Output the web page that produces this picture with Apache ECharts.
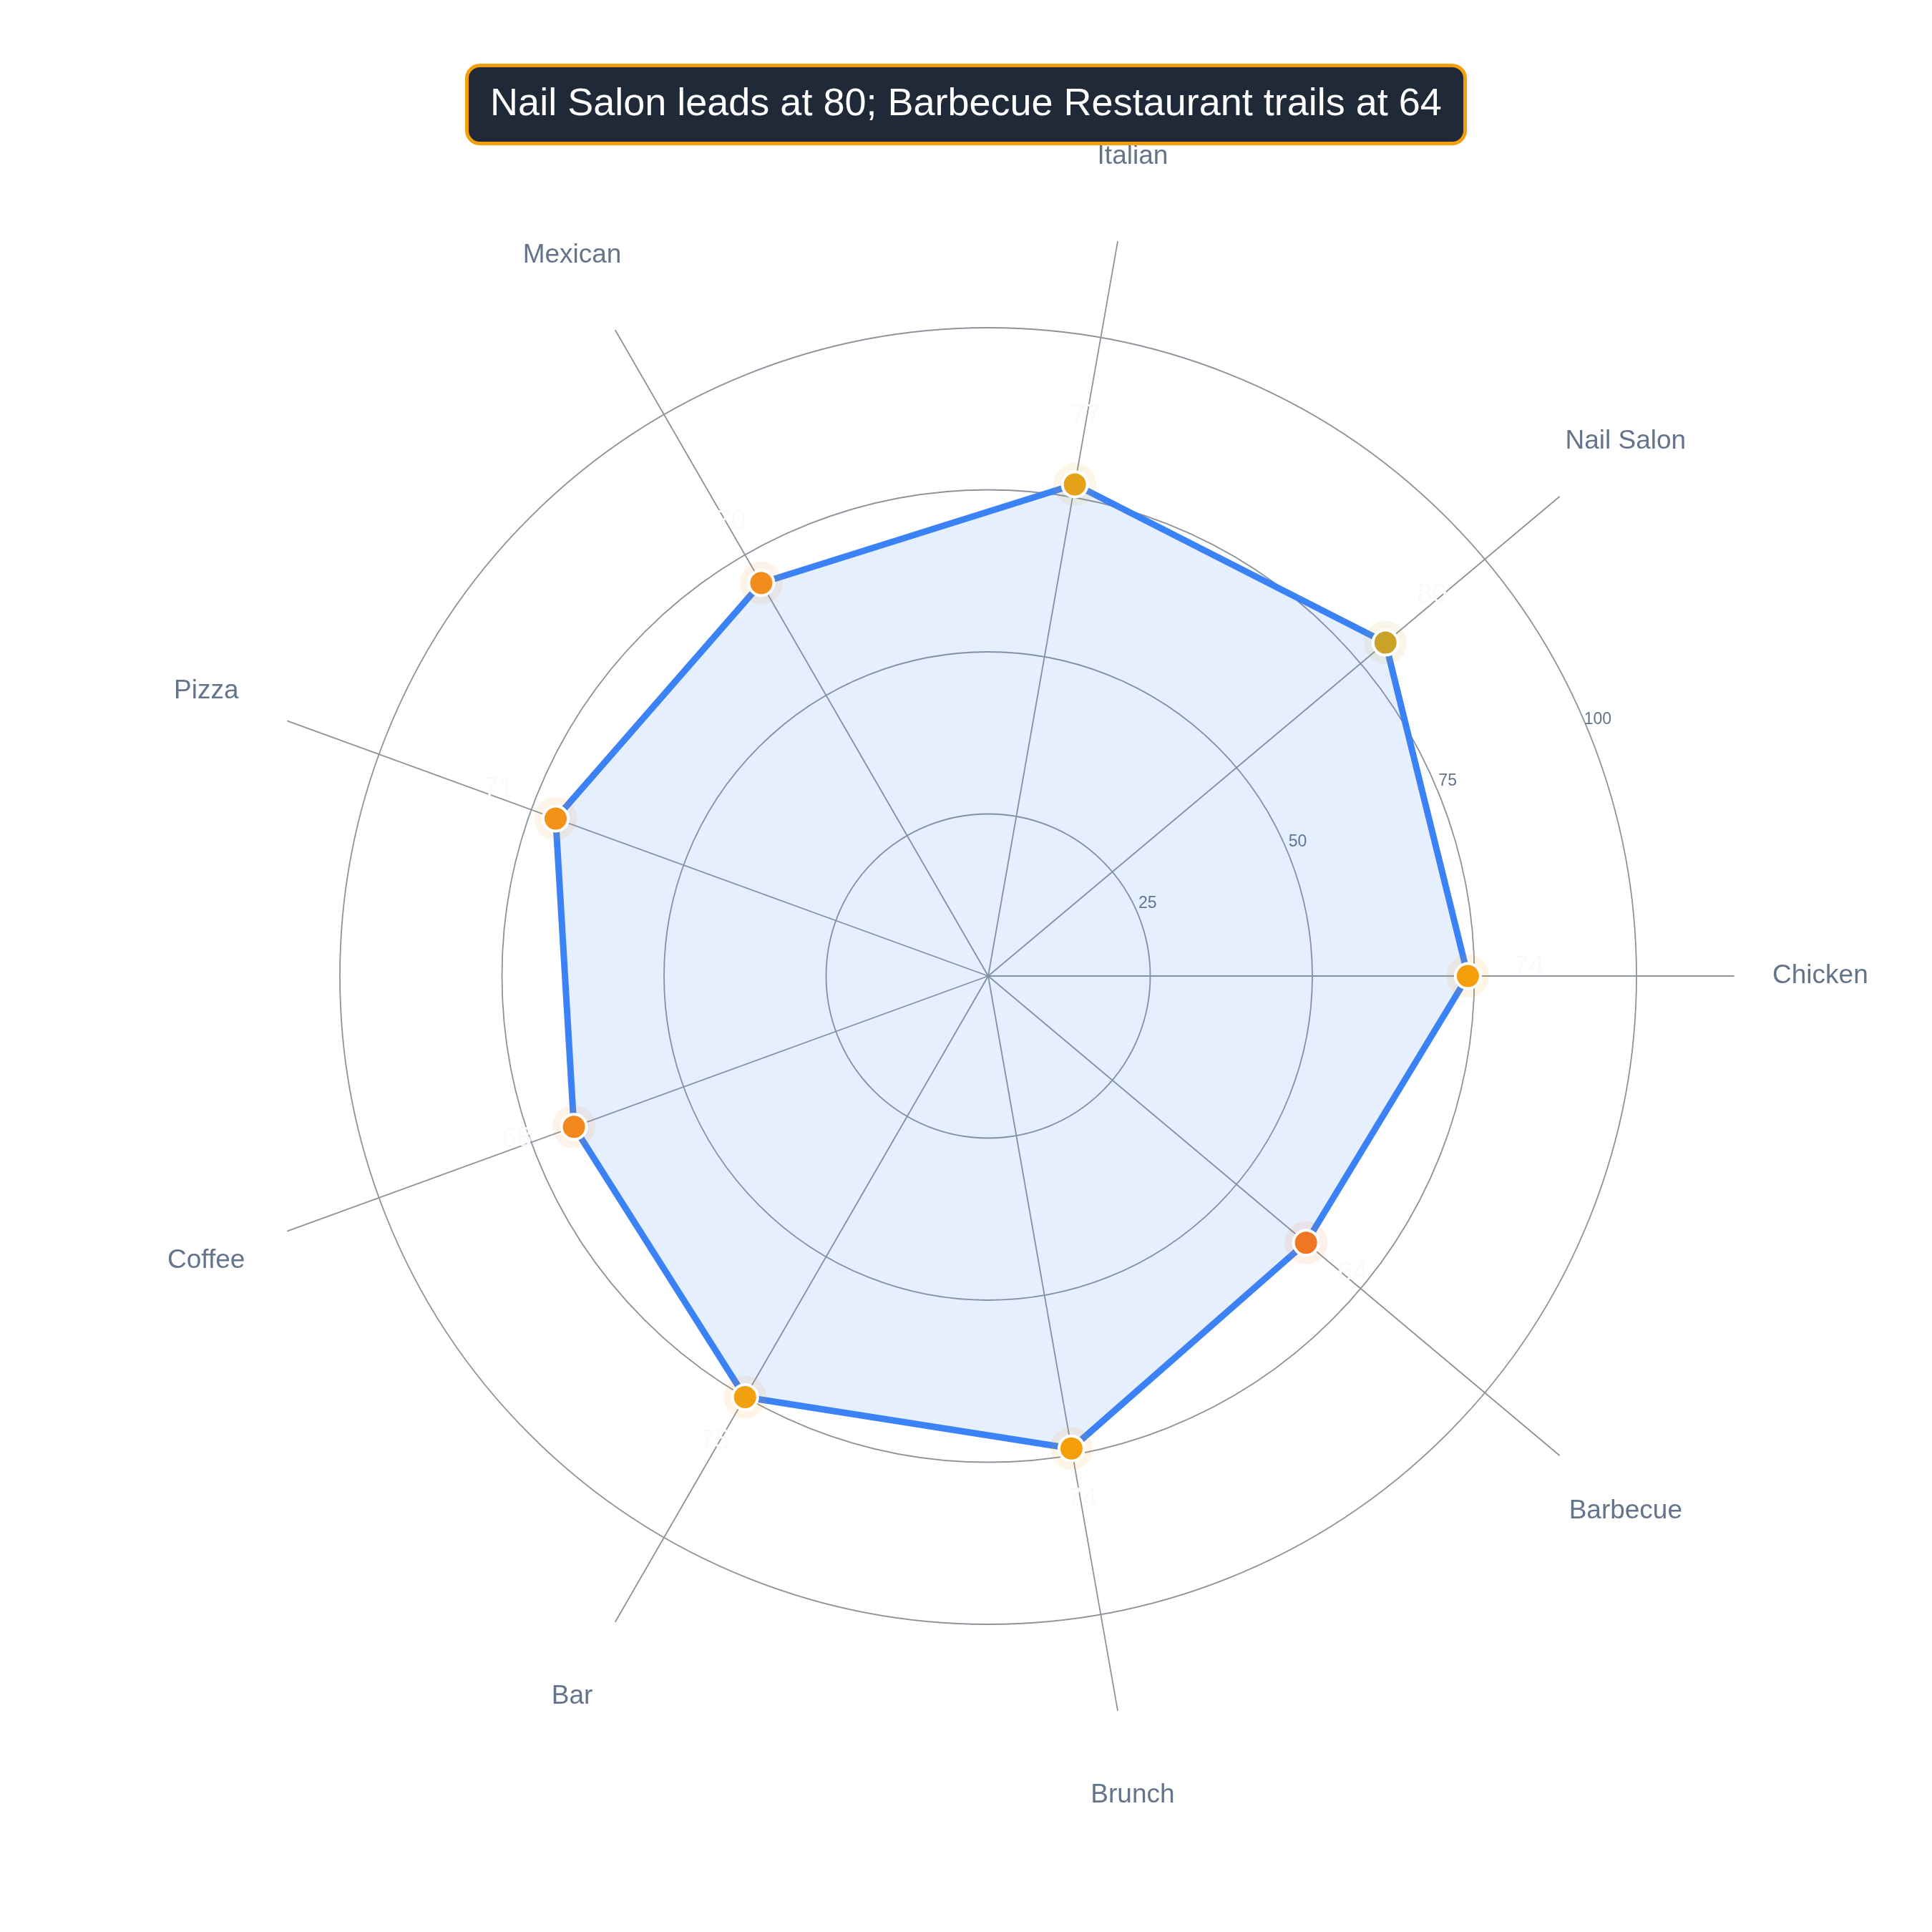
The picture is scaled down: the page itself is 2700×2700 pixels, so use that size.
<!DOCTYPE html>
<html><head><meta charset="utf-8">
<script src="https://cdn.jsdelivr.net/npm/echarts@6/dist/echarts.min.js"></script>
<style>html,body{margin:0;padding:0;background:#ffffff}#c{width:2700px;height:2700px}</style>
</head><body><div id="c"></div>
<script>
// ---- data ----
const categories = ['Chicken', 'Nail Salon', 'Italian', 'Mexican', 'Pizza', 'Coffee', 'Bar', 'Brunch', 'Barbecue'];
const values = [74, 80, 77, 70, 71, 68, 75, 74, 64];
const axisMax = 100;
const tickStep = 25;
const titleText = 'Nail Salon leads at 80; Barbecue Restaurant trails at 64';

// ---- layout / style ----
const CX = 1381, CY = 1364, R = 906;
const gridColor = '#8d939b';
const textColor = '#64748b';
const FONT = 'Liberation Sans';
const n = categories.length;

const indicators = categories.map(c => ({ name: c, max: axisMax, min: 0 }));

const pointData = values.map((v, i) => {
  const a = i * 2 * Math.PI / n;
  return {
    value: [v, categories[i]],
    label: { offset: [85 * Math.cos(a), -85 * Math.sin(a) - 12] }
  };
});
const haloData = values.map((v, i) => [v, categories[i]]);

const chart = echarts.init(document.getElementById('c'), null, { renderer: 'canvas' });
chart.setOption({
  backgroundColor: '#ffffff',
  animation: false,
  title: {
    text: titleText,
    left: 'center',
    top: 91,
    padding: [24, 33],
    backgroundColor: '#1f2937',
    borderColor: '#f59e0b',
    borderWidth: 5,
    borderRadius: 18,
    z: 20,
    textStyle: { color: '#ffffff', fontSize: 54, fontWeight: 'normal', fontFamily: FONT, lineHeight: 62 }
  },
  visualMap: {
    type: 'continuous',
    show: false,
    min: Math.min(...values),
    max: Math.max(...values),
    dimension: 0,
    seriesIndex: [1, 2],
    inRange: { color: ['#ef7623', '#f07f21', '#f2881e', '#f28c1a', '#f49515', '#f59e0b', '#eda212', '#dba21d', '#c9a227'] }
  },
  radar: [
    {
      center: [CX, CY],
      radius: R,
      startAngle: 0,
      shape: 'circle',
      splitNumber: axisMax / tickStep,
      indicator: indicators,
      axisName: { show: false },
      axisLine: { show: false },
      axisTick: { show: false },
      axisLabel: { show: false },
      splitArea: { show: false },
      splitLine: { show: true, lineStyle: { color: gridColor, width: 1.8 } }
    },
    {
      center: [CX, CY],
      radius: R * 1.15,
      startAngle: 0,
      shape: 'circle',
      splitNumber: 1,
      indicator: indicators,
      axisNameGap: 121,
      axisName: { show: true, color: textColor, fontSize: 37, fontFamily: FONT, align: 'center', verticalAlign: 'middle' },
      axisLine: { show: true, lineStyle: { color: gridColor, width: 1.8 } },
      axisTick: { show: false },
      axisLabel: { show: false },
      splitArea: { show: false },
      splitLine: { show: false }
    }
  ],
  polar: [
    { center: [CX, CY], radius: R },
    { center: [1394, 1348], radius: R }
  ],
  angleAxis: [
    {
      polarIndex: 0, type: 'category', data: categories, startAngle: 0, clockwise: false, boundaryGap: false,
      axisLine: { show: false }, axisTick: { show: false }, axisLabel: { show: false }, splitLine: { show: false }
    },
    {
      polarIndex: 1, type: 'value', min: 0, max: 360, startAngle: 22.2, show: false,
      axisLine: { show: false }, axisTick: { show: false }, axisLabel: { show: false }, splitLine: { show: false }
    }
  ],
  radiusAxis: [
    {
      polarIndex: 0, min: 0, max: axisMax,
      axisLine: { show: false }, axisTick: { show: false }, axisLabel: { show: false }, splitLine: { show: false }
    },
    {
      polarIndex: 1, min: 0, max: axisMax, interval: tickStep,
      axisLine: { show: false }, axisTick: { show: false }, splitLine: { show: false },
      axisLabel: { show: true, showMinLabel: false, margin: 0, align: 'center', verticalAlign: 'middle', color: textColor, fontSize: 23, fontFamily: FONT }
    }
  ],
  series: [
    {
      type: 'radar',
      radarIndex: 0,
      symbol: 'none',
      z: 2,
      lineStyle: { color: '#3b82f6', width: 9 },
      areaStyle: { color: 'rgba(59,130,246,0.13)', opacity: 1 },
      data: [{ value: values, name: 'Score' }]
    },
    {
      type: 'scatter',
      coordinateSystem: 'polar',
      polarIndex: 0,
      symbol: 'circle',
      symbolSize: 60,
      silent: true,
      z: 3,
      itemStyle: { opacity: 0.1 },
      data: haloData
    },
    {
      type: 'scatter',
      coordinateSystem: 'polar',
      polarIndex: 0,
      symbol: 'circle',
      symbolSize: 35,
      z: 4,
      itemStyle: { borderColor: '#ffffff', borderWidth: 4, opacity: 1 },
      label: {
        show: true,
        position: 'inside',
        formatter: p => String(p.value[0]),
        color: '#f8fafc',
        fontSize: 38,
        fontFamily: FONT
      },
      data: pointData
    }
  ]
});
</script>
</body></html>
